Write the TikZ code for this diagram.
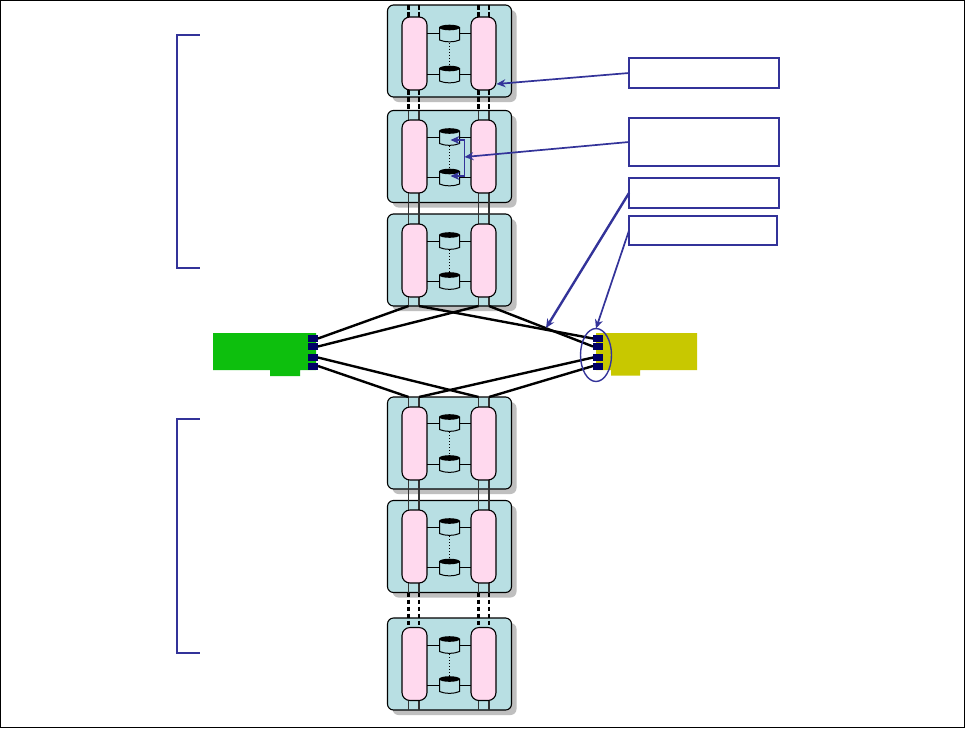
\documentclass[tikz,border=0pt]{standalone}
\usetikzlibrary{shapes.geometric,arrows.meta,calc}
\definecolor{boxc}{HTML}{B8DFE3}
\definecolor{pinkc}{HTML}{FFD9EE}
\definecolor{greenc}{HTML}{0DBF0D}
\definecolor{yelc}{HTML}{C8C800}
\definecolor{navyc}{HTML}{000066}
\definecolor{bluec}{HTML}{333399}
\definecolor{shadc}{HTML}{BFBFBF}
\tikzset{
  modbox/.style={draw=black,line width=1.1pt,fill=boxc,rounded corners=6pt,minimum width=124pt,minimum height=92pt,inner sep=0pt,outer sep=0pt,anchor=north west},
  modshadow/.style={fill=shadc,rounded corners=6pt,minimum width=124pt,minimum height=92pt,inner sep=0pt,outer sep=0pt,anchor=north west},
  pill/.style={draw=black,line width=1.1pt,fill=pinkc,rounded corners=8pt,minimum width=25pt,minimum height=73pt,inner sep=0pt,outer sep=0pt,anchor=north west},
  diskspot/.style={minimum width=20pt,minimum height=17pt,inner sep=0pt,outer sep=0pt,anchor=center},
  wire/.style={draw=black,line width=.9pt},
  solidcable/.style={draw=black!80,line width=1.2pt},
  dashcable/.style={draw=black,line width=2.1pt,dash pattern=on 4.5pt off 2.5pt},
  link/.style={draw=black,line width=2.4pt},
  port/.style={fill=navyc,minimum width=10pt,minimum height=7pt,inner sep=0pt,outer sep=0pt,anchor=center},
  calloutbox/.style={draw=bluec,line width=1.4pt,fill=white,inner sep=0pt,outer sep=0pt,anchor=north west},
  pointer/.style={draw=bluec,line width=1.7pt,-{Stealth[length=9pt,width=8pt]}},
  bracketline/.style={draw=bluec,line width=1.3pt},
}
% #1 name, #2 top y, #3 pill offset
\newcommand{\modulebody}[3]{
  \node[modshadow] at (392.5,#2+5) {};
  \node[modbox] (#1) at (387.5,#2) {};
  \coordinate (#1-la) at (408.5,#2);   \coordinate (#1-lb) at (419,#2);
  \coordinate (#1-ra) at (478.5,#2);   \coordinate (#1-rb) at (489,#2);
  \coordinate (#1-las) at (408.5,#2+92); \coordinate (#1-lbs) at (419,#2+92);
  \coordinate (#1-ras) at (478.5,#2+92); \coordinate (#1-rbs) at (489,#2+92);
  \coordinate (#1-lat) at (408.5,#2+#3); \coordinate (#1-lbt) at (419,#2+#3);
  \coordinate (#1-rat) at (478.5,#2+#3); \coordinate (#1-rbt) at (489,#2+#3);
  \coordinate (#1-lap) at (408.5,#2+#3+73); \coordinate (#1-lbp) at (419,#2+#3+73);
  \coordinate (#1-rap) at (478.5,#2+#3+73); \coordinate (#1-rbp) at (489,#2+#3+73);
}
% one disk: #1 node name, #2 centre y
\newcommand{\onedisk}[2]{
  \node[diskspot] (#1) at (449.5,#2) {};
  \draw[black,line width=1pt,fill=boxc] (439.5,#2-6) -- (439.5,#2+6.5) .. controls (445,#2+9) and (454,#2+9) .. (459.5,#2+6.5) -- (459.5,#2-6) -- cycle;
  \fill[black] (449.5,#2-6) ellipse [x radius=10.4pt,y radius=2.8pt];
}
% #1 name, #2 top y, #3 pill offset, #4 upper disk centre offset, #5 lower
\newcommand{\moduleparts}[5]{
  \node[pill] (#1-l) at (402,#2+#3) {};
  \node[pill] (#1-r) at (471,#2+#3) {};
  \draw[black,line width=1pt,dotted] (449.5,#2+#4) -- (449.5,#2+#5);
  \onedisk{#1-d1}{#2+#4}
  \onedisk{#1-d2}{#2+#5}
  \draw[wire] (#1-l.east |- #1-d1.center) -- (#1-d1.west);
  \draw[wire] (#1-d1.east) -- (#1-r.west |- #1-d1.center);
  \draw[wire] (#1-l.east |- #1-d2.center) -- (#1-d2.west);
  \draw[wire] (#1-d2.east) -- (#1-r.west |- #1-d2.center);
}
\begin{document}
\begin{tikzpicture}[x=1pt,y=-1pt]
\useasboundingbox (0,0) rectangle (965,728);
\fill[white] (0,0) rectangle (965,728);
% modules
\modulebody{a}{5}{12}
\modulebody{b}{110.5}{9.5}
\modulebody{c}{214}{10}
\modulebody{d}{397}{10}
\modulebody{e}{500.5}{9.5}
\modulebody{f}{618}{9.5}
% cables
\foreach \p/\q in {a-la/a-lat,a-lb/a-lbt,a-ra/a-rat,a-rb/a-rbt}
  \draw[dashcable] (\p) -- (\q);
\foreach \p/\q in {a-lap/b-la,a-lbp/b-lb,a-rap/b-ra,a-rbp/b-rb}
  \draw[dashcable] (\p) -- (\q);
\foreach \p/\q in {b-la/b-lat,b-lb/b-lbt,b-ra/b-rat,b-rb/b-rbt}
  \draw[solidcable] (\p) -- (\q);
\foreach \p/\q in {b-lap/c-lat,b-lbp/c-lbt,b-rap/c-rat,b-rbp/c-rbt}
  \draw[solidcable] (\p) -- (\q);
\foreach \p/\q in {c-lap/c-las,c-lbp/c-lbs,c-rap/c-ras,c-rbp/c-rbs,d-la/d-lat,d-lb/d-lbt,d-ra/d-rat,d-rb/d-rbt}
  \draw[solidcable] (\p) -- (\q);
\foreach \p/\q in {d-lap/e-lat,d-lbp/e-lbt,d-rap/e-rat,d-rbp/e-rbt}
  \draw[solidcable] (\p) -- (\q);
\foreach \p/\q in {e-lap/e-las,e-lbp/e-lbs,e-rap/e-ras,e-rbp/e-rbs,f-lap/f-las,f-lbp/f-lbs,f-rap/f-ras,f-rbp/f-rbs}
  \draw[solidcable] (\p) -- (\q);
\foreach \p/\q in {e-las/f-lat,e-lbs/f-lbt,e-ras/f-rat,e-rbs/f-rbt}
  \draw[dashcable] (\p) -- (\q);
\moduleparts{a}{5}{12}{28.5}{69.5}
\moduleparts{b}{110.5}{9.5}{26.5}{67}
\moduleparts{c}{214}{10}{27}{67}
\moduleparts{d}{397}{10}{26}{67}
\moduleparts{e}{500.5}{9.5}{26.5}{67}
\moduleparts{f}{618}{9.5}{27}{67}
% adapters
\fill[greenc] (213,333) -- (316,333) -- (316,370) -- (300,370) -- (300,376) -- (270,376) -- (270,370) -- (213,370) -- cycle;
\fill[yelc] (596,333) -- (697,333) -- (697,370) -- (640,370) -- (640,375.5) -- (611,375.5) -- (611,370) -- (596,370) -- cycle;
% links
\node[port] (g1) at (313,338.5) {};
\node[port] (g2) at (313,346.5) {};
\node[port] (g3) at (313,357.5) {};
\node[port] (g4) at (313,366) {};
\node[port] (y1) at (598,338.5) {};
\node[port] (y2) at (598,346.5) {};
\node[port] (y3) at (598,357.5) {};
\node[port] (y4) at (598,366) {};
\draw[link] (g1.east) -- (c-las);
\draw[link] (g2.east) -- (c-ras);
\draw[link] (g3.east) -- (d-ra);
\draw[link] (g4.east) -- (d-la);
\draw[link] (y1.west) -- (c-lbs);
\draw[link] (y2.west) -- (c-rbs);
\draw[link] (y3.west) -- (d-lb);
\draw[link] (y4.west) -- (d-rb);
% brackets
\coordinate (br1a) at (199.5,35); \coordinate (br1b) at (177,35); \coordinate (br1c) at (177,268); \coordinate (br1d) at (199.5,268);
\draw[bracketline] (br1a) -- (br1b) -- (br1c) -- (br1d);
\coordinate (br2a) at (199.5,419); \coordinate (br2b) at (177,419); \coordinate (br2c) at (177,653); \coordinate (br2d) at (199.5,653);
\draw[bracketline] (br2a) -- (br2b) -- (br2c) -- (br2d);
% callouts
\node[calloutbox,minimum width=150pt,minimum height=30pt] (k1) at (629,58) {};
\node[calloutbox,minimum width=150pt,minimum height=48pt] (k2) at (629,118) {};
\node[calloutbox,minimum width=150pt,minimum height=30pt,line width=1.7pt] (k3) at (629,178) {};
\node[calloutbox,minimum width=148pt,minimum height=29pt] (k4) at (629,216) {};
\node[draw=bluec,line width=1.4pt,ellipse,minimum width=31pt,minimum height=53pt,inner sep=0pt,outer sep=0pt] (ring) at (596,355) {};
% pointers
\coordinate (t1) at (496.5,84);
\coordinate (t2) at (464.5,157);
\coordinate (t3) at (546,328);
\coordinate (d1t) at (450.5,140); \coordinate (d2t) at (450.5,176);
\coordinate (bm1) at (464.5,140); \coordinate (bm2) at (464.5,176);
\draw[pointer] (k1.west) -- (t1);
\draw[pointer] (k2.west) -- (t2);
\draw[pointer,line width=2.4pt] (k3.west) -- (t3);
\draw[pointer] (k4.west) -- (ring.north);
\draw[pointer] (bm1) -- (d1t);
\draw[pointer] (bm2) -- (d2t);
\draw[bluec,line width=1.7pt] (bm1) -- (bm2);
% frame
\draw[black,line width=1.2pt] (0.5,0.5) rectangle (964.5,727.5);
\end{tikzpicture}
\end{document}
